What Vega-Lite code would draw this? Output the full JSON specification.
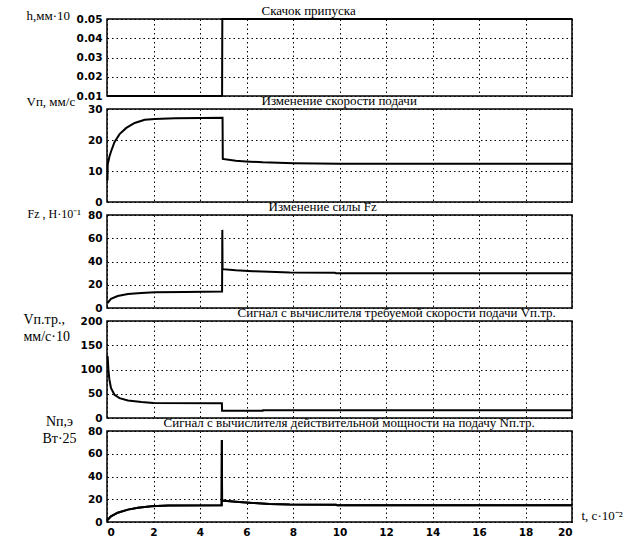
{
  "$schema": "https://vega.github.io/schema/vega-lite/v6.json",
  "padding": {"left": 22, "top": 3, "right": 5, "bottom": 5},
  "datasets": {
    "h": [
      {"t": 0, "v": 0.01}, {"t": 4.95, "v": 0.01}, {"t": 4.96, "v": 0.05}, {"t": 20, "v": 0.05}
    ],
    "vp": [
      {"t": 0.02, "v": 6.9}, {"t": 0.03, "v": 12.1}, {"t": 0.1, "v": 14.5}, {"t": 0.17, "v": 16.2},
      {"t": 0.32, "v": 19.3}, {"t": 0.54, "v": 21.9}, {"t": 0.83, "v": 23.9}, {"t": 1.19, "v": 25.5},
      {"t": 1.62, "v": 26.5}, {"t": 2.06, "v": 26.8}, {"t": 2.93, "v": 27.0}, {"t": 4.09, "v": 27.1},
      {"t": 4.97, "v": 27.2}, {"t": 4.98, "v": 13.9}, {"t": 5.54, "v": 13.3}, {"t": 5.97, "v": 13.1},
      {"t": 6.7, "v": 12.8}, {"t": 8.04, "v": 12.5}, {"t": 10, "v": 12.3}, {"t": 20, "v": 12.3}
    ],
    "fz": [
      {"t": 0.02, "v": 4.1}, {"t": 0.17, "v": 7.8}, {"t": 0.46, "v": 10.3}, {"t": 0.9, "v": 12.0},
      {"t": 1.48, "v": 12.9}, {"t": 2.06, "v": 13.5}, {"t": 3.36, "v": 13.8}, {"t": 4.95, "v": 14.2},
      {"t": 4.96, "v": 67.2}, {"t": 4.97, "v": 33.4}, {"t": 5.54, "v": 32.5}, {"t": 6.26, "v": 31.7},
      {"t": 6.99, "v": 31.1}, {"t": 7.86, "v": 30.5}, {"t": 9.8, "v": 30.4}, {"t": 9.85, "v": 30.0},
      {"t": 20, "v": 30.0}
    ],
    "vtr": [
      {"t": 0.01, "v": 128}, {"t": 0.03, "v": 126}, {"t": 0.06, "v": 100}, {"t": 0.1, "v": 80},
      {"t": 0.17, "v": 62}, {"t": 0.32, "v": 48}, {"t": 0.54, "v": 41}, {"t": 0.9, "v": 36},
      {"t": 1.48, "v": 33}, {"t": 1.99, "v": 31}, {"t": 4.94, "v": 30.5}, {"t": 4.95, "v": 14.8},
      {"t": 6.7, "v": 14.8}, {"t": 6.71, "v": 16.2}, {"t": 20, "v": 16.2}
    ],
    "np": [
      {"t": 0, "v": 1.2}, {"t": 0.17, "v": 5}, {"t": 0.46, "v": 8.2}, {"t": 0.9, "v": 10.9},
      {"t": 1.33, "v": 12.6}, {"t": 1.91, "v": 13.8}, {"t": 2.64, "v": 14.4}, {"t": 4.93, "v": 14.7},
      {"t": 4.94, "v": 72}, {"t": 4.95, "v": 18.8}, {"t": 5.54, "v": 17.9}, {"t": 6.26, "v": 16.8},
      {"t": 6.99, "v": 15.9}, {"t": 7.86, "v": 15.3}, {"t": 9.85, "v": 15.2}, {"t": 9.9, "v": 14.8},
      {"t": 20, "v": 14.8}
    ]
  },
  "bounds": "flush",
  "spacing": 13,
  "vconcat": [
    {
      "width": 465,
      "height": 77,
      "data": {"name": "h"},
      "mark": {"type": "line", "color": "black", "strokeWidth": 2},
      "encoding": {
        "x": {"field": "t", "type": "quantitative", "scale": {"domain": [0, 20], "nice": false},
          "axis": {"values": [0, 2, 4, 6, 8, 10, 12, 14, 16, 18, 20], "labels": false,
            "title": "Скачок припуска", "titleX": 154, "titleY": -79}},
        "y": {"field": "v", "type": "quantitative", "scale": {"domain": [0.01, 0.05], "nice": false, "zero": false},
          "axis": {"values": [0.01, 0.02, 0.03, 0.04, 0.05], "format": ".2f", "title": "h,мм·10",
            "titleX": -81, "titleY": -4}}
      }
    },
    {
      "width": 465,
      "height": 93,
      "data": {"name": "vp"},
      "mark": {"type": "line", "color": "black", "strokeWidth": 2},
      "encoding": {
        "x": {"field": "t", "type": "quantitative", "scale": {"domain": [0, 20], "nice": false},
          "axis": {"values": [0, 2, 4, 6, 8, 10, 12, 14, 16, 18, 20], "labels": false,
            "title": "Изменение скорости подачи", "titleX": 154, "titleY": -95}},
        "y": {"field": "v", "type": "quantitative", "scale": {"domain": [0, 30], "nice": false},
          "axis": {"values": [0, 10, 20, 30], "title": "Vп, мм/с", "titleX": -81, "titleY": -8}}
      }
    },
    {
      "width": 465,
      "height": 93,
      "data": {"name": "fz"},
      "mark": {"type": "line", "color": "black", "strokeWidth": 2},
      "encoding": {
        "x": {"field": "t", "type": "quantitative", "scale": {"domain": [0, 20], "nice": false},
          "axis": {"values": [0, 2, 4, 6, 8, 10, 12, 14, 16, 18, 20], "labels": false,
            "title": "Изменение силы Fz", "titleX": 161, "titleY": -95}},
        "y": {"field": "v", "type": "quantitative", "scale": {"domain": [0, 80], "nice": false},
          "axis": {"values": [0, 20, 40, 60, 80], "title": "Fz , Н·10⁻¹", "titleX": -80, "titleY": -2,
            "titleFontSize": 12}}
      }
    },
    {
      "width": 465,
      "height": 97,
      "data": {"name": "vtr"},
      "mark": {"type": "line", "color": "black", "strokeWidth": 2},
      "encoding": {
        "x": {"field": "t", "type": "quantitative", "scale": {"domain": [0, 20], "nice": false},
          "axis": {"values": [0, 2, 4, 6, 8, 10, 12, 14, 16, 18, 20], "labels": false,
            "title": "Сигнал с вычислителя требуемой скорости подачи Vп.тр.", "titleX": 130, "titleY": -99}},
        "y": {"field": "v", "type": "quantitative", "scale": {"domain": [0, 200], "nice": false},
          "axis": {"values": [0, 50, 100, 150, 200], "title": ["Vп.тр.,", "мм/с·10"],
            "titleX": -84, "titleY": -9, "titleBaseline": "top", "titleFontSize": 14, "titleLineHeight": 17}}
      }
    },
    {
      "width": 465,
      "height": 91,
      "data": {"name": "np"},
      "encoding": {
        "y": {"field": "v", "type": "quantitative", "scale": {"domain": [0, 80], "nice": false},
          "axis": {"values": [0, 20, 40, 60, 80], "title": ["Nп,э", "Вт·25"], "titleAlign": "center",
            "titleX": -48, "titleY": -17, "titleBaseline": "top", "titleFontSize": 14, "titleLineHeight": 17}}
      },
      "layer": [
        {
          "mark": {"type": "line", "color": "black", "strokeWidth": 2},
          "encoding": {
            "x": {"field": "t", "type": "quantitative", "scale": {"domain": [0, 20], "nice": false},
              "axis": {"orient": "bottom", "values": [0, 2, 4, 6, 8, 10, 12, 14, 16, 18, 20], "title": "t, с·10⁻²",
                "titleX": 474, "titleY": -7, "titleBaseline": "middle"}}
          }
        },
        {
          "mark": {"type": "line", "color": "black", "strokeWidth": 2},
          "encoding": {
            "x": {"field": "t", "type": "quantitative",
              "axis": {"orient": "top", "grid": false, "labels": false,
                "title": "Сигнал с вычислителя действительной мощности на подачу Nп.тр.", "titleX": 56, "titleY": -2}}
          }
        }
      ],
      "resolve": {"axis": {"x": "independent"}}
    }
  ],
  "config": {
    "background": "white",
    "view": {"stroke": "black", "strokeWidth": 1.5},
    "axis": {
      "domain": false,
      "grid": true,
      "gridColor": "black",
      "gridDash": [1.5, 3],
      "gridOpacity": 1,
      "gridWidth": 1,
      "ticks": false,
      "labelPadding": 5,
      "labelOverlap": false,
      "labelBound": false,
      "labelFont": "DejaVu Sans",
      "labelFontWeight": "bold",
      "labelFontSize": 10.5,
      "labelColor": "black",
      "titleFont": "Liberation Serif",
      "titleFontWeight": "normal",
      "titleFontSize": 13,
      "titleColor": "black"
    },
    "axisX": {"titleAlign": "left", "titleBaseline": "bottom", "titleAngle": 0},
    "axisY": {"titleAngle": 0, "titleAlign": "left", "titleBaseline": "middle"}
  }
}
